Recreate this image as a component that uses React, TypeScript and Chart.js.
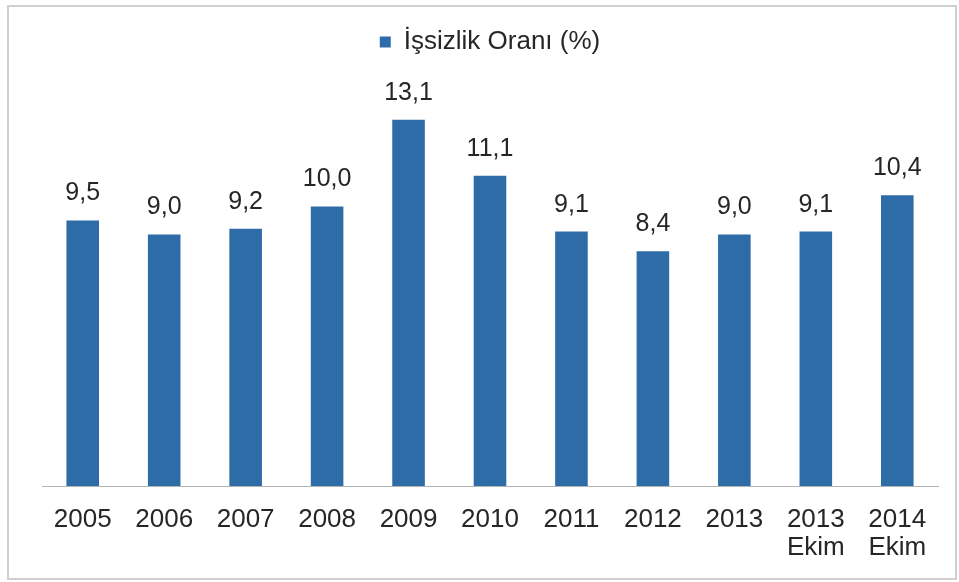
import React, { useEffect, useRef } from "react";
import { Chart, registerables } from "chart.js";

Chart.register(...registerables);

const categories: (string | string[])[] = [
  "2005", "2006", "2007", "2008", "2009", "2010", "2011", "2012", "2013",
  ["2013", "Ekim"], ["2014", "Ekim"],
];
const unemployment: number[] = [9.5, 9.0, 9.2, 10.0, 13.1, 11.1, 9.1, 8.4, 9.0, 9.1, 10.4];
const seriesLabel = "İşsizlik Oranı (%)";

const BAR_COLOR = "#2e6ca8";
const TEXT_COLOR = "#262626";
const FONT = "'Liberation Sans', Arial, sans-serif";

const valueLabels = {
  id: "valueLabels",
  afterDatasetsDraw(chart: any) {
    const ctx = chart.ctx;
    const meta = chart.getDatasetMeta(0);
    ctx.save();
    ctx.font = `25px ${FONT}`;
    ctx.fillStyle = TEXT_COLOR;
    ctx.textAlign = "center";
    ctx.textBaseline = "middle";
    meta.data.forEach((bar: any, i: number) => {
      const v = unemployment[i];
      ctx.fillText(v.toFixed(1).replace(".", ","), bar.x, bar.y - 27);
    });
    ctx.restore();
  },
};

export default function App() {
  const ref = useRef<HTMLCanvasElement | null>(null);
  useEffect(() => {
    if (!ref.current) return;
    const chart = new Chart(ref.current, {
      type: "bar",
      data: {
        labels: categories,
        datasets: [
          {
            label: seriesLabel,
            data: unemployment,
            backgroundColor: BAR_COLOR,
            borderWidth: 0,
            barPercentage: 0.4,
            categoryPercentage: 1,
          },
        ],
      },
      options: {
        animation: false,
        responsive: false,
        maintainAspectRatio: false,
        layout: { padding: { left: 42, right: 21, top: 19, bottom: 0 } },
        plugins: {
          legend: {
            display: true,
            position: "top",
            labels: {
              color: TEXT_COLOR,
              font: { size: 26, family: FONT },
              boxWidth: 11,
              boxHeight: 11,
              padding: 10,
            },
          },
          tooltip: { enabled: false },
        },
        scales: {
          x: {
            grid: { display: false },
            border: { display: true, color: "#b4b4b4", width: 1 },
            ticks: {
              color: TEXT_COLOR,
              font: { size: 26, family: FONT, lineHeight: 1.08 },
              padding: 12,
              maxRotation: 0,
              autoSkip: false,
            },
            afterFit(scale: any) {
              scale.height = 96;
            },
          },
          y: {
            display: false,
            min: 0,
            max: 15.06,
          },
        },
      },
      plugins: [valueLabels],
    });
    return () => chart.destroy();
  }, []);

  return (
    <div style={{ position: "fixed", left: 0, top: 0, width: 959, height: 582, background: "#fff" }}>
      <div
        style={{
          position: "absolute",
          left: 7,
          top: 5,
          width: 946,
          height: 571,
          border: "2px solid #cfcfcf",
        }}
      />
      <canvas ref={ref} width={959} height={582} style={{ position: "absolute", left: 0, top: 0 }} />
    </div>
  );
}
